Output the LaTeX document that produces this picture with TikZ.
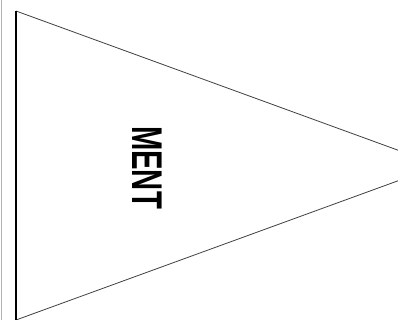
\documentclass[tikz,border=0pt]{standalone}
\usepackage{fontspec}
\setmainfont{Liberation Sans}
\begin{document}
\begin{tikzpicture}[x=1pt, y=-1pt]
\useasboundingbox (0,0) rectangle (398,320);
% outer frame line
\draw[gray!60, line width=0.8pt] (1.5,0) -- (1.5,320);
\begin{scope}
  \clip (0,0) rectangle (398,320);
  \draw[black!75, line width=0.8pt]
   (16,11) -- (440,165.5) -- (16,320);
\end{scope}
\draw[line width=1.6pt] (16,11) -- (16,320);
\node[rotate=-90, inner sep=0pt] (ment) at (147.5,167.5)
  {\fontsize{43}{43}\selectfont\bfseries\scalebox{0.68}[1]{MENT}};
\end{tikzpicture}
\end{document}
